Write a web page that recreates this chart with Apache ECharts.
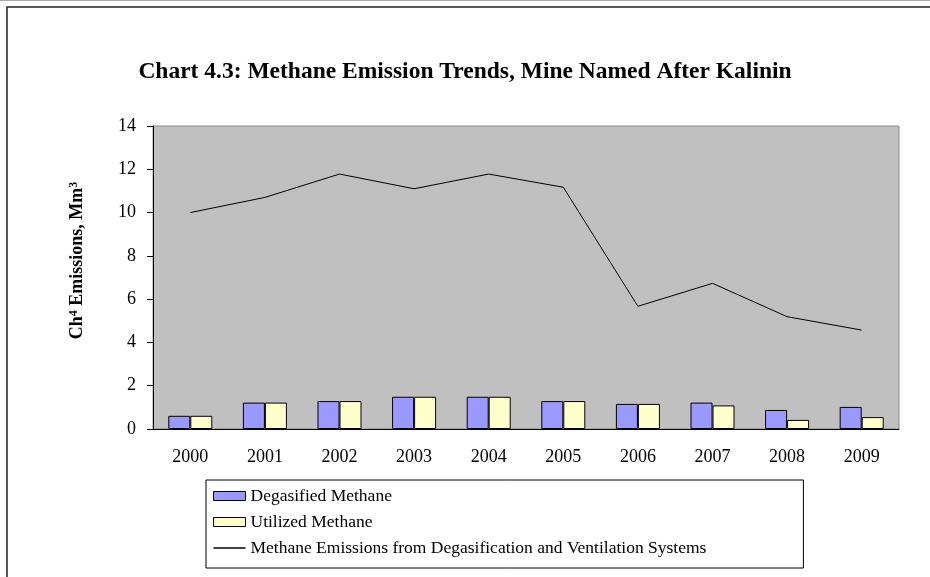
<!DOCTYPE html>
<html>
<head>
<meta charset="utf-8">
<script src="https://cdn.jsdelivr.net/npm/echarts@6/dist/echarts.min.js"></script>
<style>
  html, body { margin: 0; padding: 0; background: #fff; }
  #chart { width: 930px; height: 577px; }
</style>
</head>
<body>
<div id="chart"></div>
<script>
// data
var years = ['2000', '2001', '2002', '2003', '2004', '2005', '2006', '2007', '2008', '2009'];
var degasified = [0.61, 1.22, 1.29, 1.49, 1.49, 1.29, 1.16, 1.22, 0.88, 1.02];
var utilized = [0.61, 1.22, 1.29, 1.49, 1.49, 1.29, 1.16, 1.09, 0.42, 0.55];
var totalEmissions = [10.0, 10.7, 11.78, 11.1, 11.78, 11.17, 5.67, 6.73, 5.19, 4.57];

var serif = '"Liberation Serif", "Times New Roman", serif';

var myChart = echarts.init(document.getElementById('chart'));
myChart.setOption({
    animation: false,
    textStyle: { fontFamily: serif },
    title: {
        text: 'Chart 4.3: Methane Emission Trends, Mine Named After Kalinin',
        left: 'center',
        top: 55,
        textStyle: { fontFamily: serif, fontSize: 23.5, fontWeight: 'bold', color: '#000' }
    },
    graphic: [
        { type: 'line', shape: { x1: 0, y1: 0.5, x2: 930, y2: 0.5 }, style: { stroke: '#aaa', lineWidth: 1 } },
        { type: 'rect', shape: { x: 7, y: 7, width: 1000, height: 1000 }, style: { fill: 'none', stroke: '#222', lineWidth: 1.5 } }
    ],
    legend: {
        orient: 'vertical',
        left: 206,
        top: 480,
        padding: [7, 97, 11, 7],
        borderColor: '#000',
        borderWidth: 1,
        itemWidth: 32,
        itemHeight: 9,
        itemGap: 8,
        textStyle: { fontFamily: serif, fontSize: 17.5, color: '#000' },
        data: [
            { name: 'Degasified Methane', icon: 'rect', itemStyle: { borderWidth: 1, borderColor: '#000' } },
            { name: 'Utilized Methane', icon: 'rect', itemStyle: { borderWidth: 1, borderColor: '#000' } },
            {
                name: 'Methane Emissions from Degasification and Ventilation Systems',
                icon: 'path://M0,0 L32,0 L32,1.3 L0,1.3 Z',
                itemStyle: { color: '#000', borderWidth: 0 }
            }
        ]
    },
    grid: {
        left: 153,
        right: 31,
        top: 126,
        bottom: 148,
        show: true,
        backgroundColor: '#c0c0c0',
        borderColor: '#8a8a8a',
        borderWidth: 1
    },
    xAxis: {
        type: 'category',
        data: years,
        axisLine: { lineStyle: { color: '#000', width: 1 } },
        axisTick: { length: 6, lineStyle: { color: '#000' } },
        axisLabel: { color: '#000', fontSize: 18, margin: 19 }
    },
    yAxis: {
        type: 'value',
        min: 0,
        max: 14,
        interval: 2,
        name: '{b|Ch}{s|4}{b| Emissions, Mm}{s|3}',
        nameLocation: 'middle',
        nameGap: 66,
        nameTextStyle: {
            padding: [0, 0, 0, 34],
            rich: {
                b: { fontFamily: serif, fontSize: 18, fontWeight: 'bold', color: '#000' },
                s: { fontFamily: serif, fontSize: 12, fontWeight: 'bold', color: '#000', verticalAlign: 'top', padding: [0, 0, 7, 0] }
            }
        },
        axisLine: { show: true, lineStyle: { color: '#000', width: 1 } },
        axisTick: { show: true, length: 6, lineStyle: { color: '#000' } },
        splitLine: { show: false },
        axisLabel: { color: '#000', fontSize: 18, margin: 17 }
    },
    series: [
        {
            name: 'Degasified Methane',
            type: 'bar',
            data: degasified,
            barGap: '0%',
            barCategoryGap: '41%',
            itemStyle: { color: '#9999ff', borderColor: '#000', borderWidth: 1 }
        },
        {
            name: 'Utilized Methane',
            type: 'bar',
            data: utilized,
            itemStyle: { color: '#ffffcc', borderColor: '#000', borderWidth: 1 }
        },
        {
            name: 'Methane Emissions from Degasification and Ventilation Systems',
            type: 'line',
            data: totalEmissions,
            symbol: 'none',
            lineStyle: { color: '#000', width: 1 },
            itemStyle: { color: '#000' }
        }
    ]
});
</script>
</body>
</html>
